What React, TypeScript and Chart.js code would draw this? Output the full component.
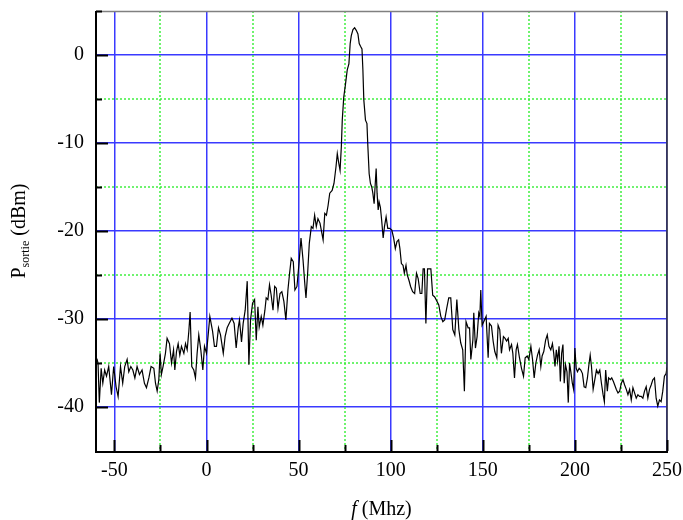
import React, { useEffect, useRef } from 'react';
import { Chart, registerables } from 'chart.js';

Chart.register(...registerables);

// Frequency (MHz) of each sample
const freqMHz = [
  -59.5, -58.9, -58.2, -57.2, -56.3, -55.3, -54.3, -53.1, -51.6, -50.4,
  -49.1, -48.0, -46.7, -45.5, -44.4, -43.1, -42.2, -41.1, -40.0, -38.9,
  -37.7, -36.4, -35.0, -33.7, -32.6, -31.3, -30.1, -28.6, -27.7, -26.8,
  -25.9, -25.2, -24.5, -23.6, -22.3, -21.4, -20.1, -19.0, -17.9, -17.2,
  -16.3, -15.4, -14.5, -13.6, -12.3, -11.4, -10.5, -9.6, -8.9, -8.0,
  -6.9, -6.0, -5.1, -4.2, -3.1, -2.0, -1.1,
  0, 1.8, 3.3, 4.3, 5.4, 6.5, 7.6, 9.1, 10.1, 11.2,
  12.3, 13.8, 15.0, 16.1, 17.2, 17.9, 19.0, 19.9, 21.0, 22.1,
  23.0, 23.9, 25.0, 26.1, 27.0, 27.9, 28.6, 29.7, 30.6, 31.7,
  32.4, 33.3, 34.2, 35.1, 36.1, 37.0, 37.9, 38.8, 39.9, 40.9,
  42.0, 43.1, 44.2, 45.1, 46.0, 47.1, 48.0, 49.1, 50.2, 51.3,
  52.4, 53.4, 54.0, 54.9, 55.8, 56.9, 57.8, 58.7, 59.6, 60.5, 61.6,
  63.3, 64.2, 65.1, 66.0, 66.9, 68.2, 69.2, 70.3, 71.0, 71.8,
  72.5, 73.2, 73.7, 74.5, 75.4, 76.4, 77.3, 78.0, 78.6, 79.5,
  80.4, 81.3, 82.2, 82.9, 83.6, 84.4, 84.9, 85.4, 86.3, 87.1,
  87.6, 88.3, 89.0, 89.7, 90.3, 91.0, 91.5, 92.1, 92.6, 93.2,
  93.7, 94.4, 95.1, 95.9, 96.6, 97.5, 98.4, 99.5, 100.6, 101.6,
  102.5, 103.4, 104.3, 105.0, 105.8, 106.7, 107.4, 108.3, 109.0, 109.9,
  110.8, 111.9, 113.0, 114.0, 114.9, 116.0, 116.9, 117.6, 118.3, 119.1,
  120.0, 120.9, 121.8, 122.8, 123.9,
  126.1, 127.2, 128.3, 129.3, 130.4, 131.5, 132.6, 133.7, 134.8, 135.9,
  137.0, 138.0, 139.1, 140.0, 140.9, 142.0, 142.8, 143.5, 144.6, 145.1,
  146.0, 146.9, 147.8, 148.4, 148.9, 149.6, 150.5, 151.8, 152.9, 153.6,
  154.7, 155.6, 156.5, 157.6, 158.3, 159.2, 160.1, 161.2, 162.1, 162.9,
  163.8, 164.5, 165.6, 166.3, 167.2, 168.1, 168.8, 169.9, 171.0, 172.1,
  173.0, 174.1, 175.0, 176.1, 177.0, 177.9, 178.8, 179.7, 180.6, 181.5,
  182.2, 183.1, 184.1, 185.0, 185.9, 186.9,
  187.8, 188.5, 189.2, 189.9, 190.6, 191.4, 192.1, 192.8, 193.5, 194.2,
  194.9, 195.7, 196.4, 197.1, 197.8, 198.6, 199.3, 200.0, 200.7, 201.4,
  202.3, 203.2, 204.1, 205.0, 205.9, 206.8, 207.6, 208.3, 209.0, 209.9,
  210.8, 211.7, 212.6, 213.5, 214.4, 215.3, 216.0, 216.7, 217.6, 218.3,
  219.2, 220.0, 220.9, 221.6, 222.5, 223.4, 224.3, 225.2, 226.1, 227.0,
  227.9, 228.8, 229.7, 230.6, 231.5, 232.4, 233.3, 234.2, 235.1, 236.0,
  236.9, 237.8, 238.7, 239.6, 240.5, 241.4, 242.3, 243.2, 244.1, 245.0,
  245.9, 246.8, 247.7, 248.6, 249.5, 250,
];

// Output power (dBm) of each sample
const powerDbm = [
  -34.5, -35.0, -39.5, -35.6, -37.3, -35.8, -36.5, -35.4, -38.6, -35.4,
  -37.7, -38.8, -35.4, -37.3, -35.4, -34.6, -36.0, -35.4, -35.8, -36.7,
  -35.4, -36.3, -35.8, -37.3, -37.8, -36.7, -35.4, -35.6, -37.3, -38.2,
  -36.9, -33.9, -36.3, -35.4, -33.9, -32.2, -32.8, -35.0, -33.5, -35.8,
  -33.7, -32.8, -34.1, -33.1, -33.9, -32.8, -33.5, -31.4, -29.2, -35.4,
  -35.8, -36.7, -33.9, -31.8, -33.5, -35.8, -33.1,
  -33.9, -29.7, -31.4, -33.1, -33.1, -31.0, -31.8, -33.9, -32.0, -31.0,
  -30.5, -29.9, -30.5, -33.3, -31.0, -30.1, -32.6, -30.5, -29.0, -25.7,
  -35.2, -30.1, -28.2, -27.8, -32.4, -28.6, -30.9, -29.7, -30.7, -29.0,
  -27.6, -27.8, -26.1, -27.3, -29.0, -26.3, -26.5, -28.8, -27.1, -26.9,
  -28.0, -30.1, -26.7, -24.8, -23.1, -23.5, -26.7, -26.3, -23.7, -20.8,
  -23.3, -26.1, -27.6, -24.8, -21.4, -19.5, -19.7, -18.2, -19.5, -18.6, -19.1,
  -21.0, -18.0, -18.2, -17.1, -15.7, -15.4, -14.6, -12.7, -11.2, -12.3,
  -13.1, -10.4, -7.4, -4.8, -3.4, -1.7, -1.0, 1.3, 2.2, 2.9,
  3.1, 2.8, 2.4, 1.3, 1.0, 0.7, -1.7, -5.1, -7.4, -7.8,
  -10.4, -13.5, -14.6, -15.0, -15.7, -16.9, -15.0, -12.9, -15.7, -17.6,
  -16.7, -17.3, -18.8, -20.8, -19.5, -18.4, -19.7, -19.7, -19.9, -20.8,
  -22.0, -21.2, -21.0, -22.0, -23.7, -23.9, -24.8, -23.9, -25.0, -25.6,
  -26.3, -26.9, -27.1, -24.8, -25.4, -27.1, -27.1, -24.3, -24.3, -30.5,
  -24.3, -24.3, -24.3, -27.3, -27.5,
  -28.4, -29.7, -30.3, -30.1, -28.8, -27.6, -27.6, -31.2, -31.8, -27.8,
  -31.2, -32.7, -33.5, -38.2, -30.3, -31.0, -31.0, -34.6, -32.4, -29.3,
  -33.3, -32.0, -29.3, -29.7, -26.7, -30.7, -30.3, -29.7, -34.4, -30.5,
  -30.8, -32.5, -33.7, -34.4, -30.7, -31.2, -33.9, -32.0, -32.2, -32.5,
  -32.2, -33.5, -32.9, -33.9, -36.7, -33.5, -32.9, -34.4, -35.6, -36.5,
  -34.4, -34.2, -34.6, -33.1, -34.6, -36.7, -35.0, -34.1, -33.5, -35.4,
  -34.2, -33.7, -32.4, -31.8, -33.1, -33.5,
  -32.8, -33.9, -35.4, -33.5, -34.8, -33.1, -37.1, -33.9, -32.9, -37.3,
  -35.2, -36.0, -39.5, -35.0, -36.0, -37.3, -38.0, -33.3, -35.6, -36.0,
  -35.6, -35.8, -36.2, -37.7, -37.8, -36.7, -35.2, -34.1, -35.4, -38.0,
  -36.9, -35.8, -36.2, -35.8, -37.3, -38.6, -39.4, -35.8, -38.2, -36.7,
  -36.9, -36.7, -37.1, -37.5, -38.0, -38.4, -38.2, -37.3, -36.9, -37.5,
  -38.0, -38.6, -38.0, -39.2, -37.8, -38.4, -39.0, -38.6, -38.8, -38.8,
  -39.0, -38.2, -37.7, -39.0, -38.0, -37.5, -36.9, -36.7, -39.0, -39.9,
  -39.2, -39.4, -38.2, -36.5, -36.2, -35.5,
];

const xTickValues = [-50, 0, 50, 100, 150, 200, 250];
const yTickValues = [0, -10, -20, -30, -40];
const xMinorValues = [-25, 25, 75, 125, 175, 225];
const yMinorValues = [5, -5, -15, -25, -35];

const xTitleItalic = 'f';
const xTitleRest = ' (Mhz)';
const yTitleMain = 'P';
const yTitleSub = 'sortie';
const yTitleUnit = ' (dBm)';

const FONT = '"Liberation Serif", "Times New Roman", serif';
const BLUE = '#3a3aff';
const GREEN = '#33ee33';

const zeroPad = (s: any) => {
  s.paddingTop = 0;
  s.paddingBottom = 0;
  s.paddingLeft = 0;
  s.paddingRight = 0;
};

const decorPlugin = {
  id: 'decor',
  beforeDatasetsDraw(chart: any) {
    const { ctx, chartArea: a, scales } = chart;
    const x = scales.x;
    const y = scales.y;
    ctx.save();
    ctx.beginPath();
    ctx.rect(a.left, a.top, a.right - a.left, a.bottom - a.top);
    ctx.clip();
    ctx.strokeStyle = GREEN;
    ctx.lineWidth = 1.4;
    ctx.setLineDash([2, 2]);
    xMinorValues.forEach((v) => {
      const p = Math.round(x.getPixelForValue(v));
      ctx.beginPath();
      ctx.moveTo(p, a.top);
      ctx.lineTo(p, a.bottom);
      ctx.stroke();
    });
    yMinorValues.forEach((v) => {
      const p = Math.round(y.getPixelForValue(v));
      ctx.beginPath();
      ctx.moveTo(a.left, p);
      ctx.lineTo(a.right, p);
      ctx.stroke();
    });
    ctx.restore();
  },
  afterDraw(chart: any) {
    const { ctx, chartArea: a, scales } = chart;
    const x = scales.x;
    const y = scales.y;
    ctx.save();
    ctx.setLineDash([]);
    // frame
    ctx.strokeStyle = '#808080';
    ctx.lineWidth = 1.5;
    ctx.beginPath();
    ctx.moveTo(a.left, a.top + 0.5);
    ctx.lineTo(a.right, a.top + 0.5);
    ctx.stroke();
    ctx.strokeStyle = '#333';
    ctx.beginPath();
    ctx.moveTo(a.right, a.top);
    ctx.lineTo(a.right, a.bottom);
    ctx.stroke();
    ctx.strokeStyle = '#000';
    ctx.lineWidth = 2;
    ctx.beginPath();
    ctx.moveTo(a.left, a.top);
    ctx.lineTo(a.left, a.bottom + 1);
    ctx.lineTo(a.right + 1, a.bottom + 1);
    ctx.stroke();
    // inward ticks
    ctx.lineWidth = 2;
    const tick = (v: number, len: number, isX: boolean) => {
      ctx.beginPath();
      if (isX) {
        const p = Math.round(x.getPixelForValue(v)) + 0.5;
        ctx.moveTo(p, a.bottom);
        ctx.lineTo(p, a.bottom - len);
      } else {
        const p = Math.round(y.getPixelForValue(v)) + 0.5;
        ctx.moveTo(a.left, p);
        ctx.lineTo(a.left + len, p);
      }
      ctx.stroke();
    };
    xTickValues.forEach((v) => tick(v, 11, true));
    xMinorValues.forEach((v) => tick(v, 6, true));
    yTickValues.forEach((v) => tick(v, 12, false));
    yMinorValues.forEach((v) => tick(v, 6, false));

    // x title
    ctx.fillStyle = '#000';
    ctx.textBaseline = 'alphabetic';
    ctx.textAlign = 'left';
    ctx.font = `italic 20px ${FONT}`;
    const wF = ctx.measureText(xTitleItalic).width;
    ctx.font = `20px ${FONT}`;
    const wR = ctx.measureText(xTitleRest).width;
    const cx = (a.left + a.right) / 2;
    const sx = cx - (wF + wR) / 2;
    ctx.font = `italic 20px ${FONT}`;
    ctx.fillText(xTitleItalic, sx, 515);
    ctx.font = `20px ${FONT}`;
    ctx.fillText(xTitleRest, sx + wF, 515);

    // y title
    ctx.translate(25, (a.top + a.bottom) / 2);
    ctx.rotate(-Math.PI / 2);
    ctx.font = `20px ${FONT}`;
    const wP = ctx.measureText(yTitleMain).width;
    const wU = ctx.measureText(yTitleUnit).width;
    ctx.font = `12px ${FONT}`;
    const wS = ctx.measureText(yTitleSub).width;
    const total = wP + wS + wU;
    const s = -total / 2;
    ctx.font = `20px ${FONT}`;
    ctx.fillText(yTitleMain, s, 0);
    ctx.font = `12px ${FONT}`;
    ctx.fillText(yTitleSub, s + wP, 4);
    ctx.font = `20px ${FONT}`;
    ctx.fillText(yTitleUnit, s + wP + wS, 0);
    ctx.restore();
  },
};

export default function App() {
  const canvasRef = useRef<HTMLCanvasElement | null>(null);

  useEffect(() => {
    const canvas = canvasRef.current;
    if (!canvas) return;
    const points = freqMHz.map((f, i) => ({ x: f, y: powerDbm[i] }));
    const chart = new Chart(canvas, {
      type: 'line',
      data: {
        datasets: [
          {
            data: points,
            borderColor: '#000',
            borderWidth: 1.2,
            pointRadius: 0,
            tension: 0,
            fill: false,
          },
        ],
      },
      options: {
        animation: false,
        responsive: false,
        layout: { padding: { left: 0, right: 16, top: 11, bottom: 0 } },
        plugins: { legend: { display: false }, tooltip: { enabled: false } },
        scales: {
          x: {
            type: 'linear',
            min: -60,
            max: 250,
            afterBuildTicks: (s: any) => {
              s.ticks = xTickValues.map((v) => ({ value: v }));
            },
            afterFit: (s: any) => {
              s.height = 69;
              zeroPad(s);
            },
            ticks: {
              autoSkip: false,
              maxRotation: 0,
              padding: 8,
              color: '#000',
              font: { family: FONT, size: 20 },
              callback: (v: any) => String(v),
            },
            grid: { color: BLUE, lineWidth: 1.5, drawTicks: false },
            border: { display: false },
          },
          y: {
            type: 'linear',
            min: -45,
            max: 5,
            afterBuildTicks: (s: any) => {
              s.ticks = yTickValues.map((v) => ({ value: v }));
            },
            afterFit: (s: any) => {
              s.width = 96;
              zeroPad(s);
            },
            ticks: {
              autoSkip: false,
              padding: 12,
              color: '#000',
              font: { family: FONT, size: 20 },
              callback: (v: any) => String(v),
            },
            grid: { color: BLUE, lineWidth: 1.5, drawTicks: false },
            border: { display: false },
          },
        },
      },
      plugins: [decorPlugin],
    });
    return () => chart.destroy();
  }, []);

  return (
    <div style={{ position: 'fixed', left: 0, top: 0, width: 683, height: 520, background: '#fff' }}>
      <canvas ref={canvasRef} width={683} height={520} style={{ display: 'block' }} />
    </div>
  );
}
